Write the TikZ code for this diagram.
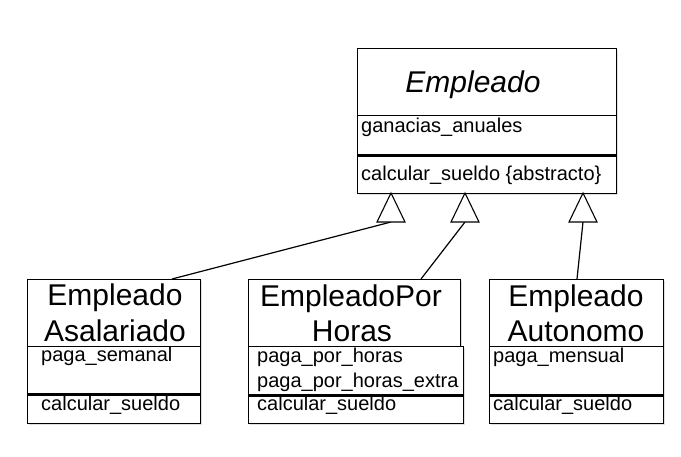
\documentclass[tikz,border=0pt]{standalone}
\usepackage{fontspec}
\setmainfont{Liberation Sans}
\begin{document}
\begin{tikzpicture}[x=1pt,y=-1pt,
  box/.style={draw=black, line width=1.1pt, fill=white, inner sep=0pt, anchor=north west},
  shade/.style={fill=black!12, draw=none},
  sep/.style={line width=1pt},
  thick sep/.style={line width=3pt},
  title/.style={anchor=base, inner sep=0pt, font=\fontsize{30}{36}\selectfont},
  attr/.style={anchor=base west, inner sep=0pt, font=\fontsize{20}{24}\selectfont},
  tri/.style={draw=black, line width=1.1pt, fill=white},
  link/.style={draw=black, line width=1.2pt}
]
\useasboundingbox (0,0) rectangle (681,456);
\fill[white] (0,0) rectangle (681,456);

% shadows
\fill[shade] (359,50) rectangle (618,195);
\fill[shade] (29,281) rectangle (202,425);
\fill[shade] (250,281) rectangle (462,348);
\fill[shade] (250,348) rectangle (465,425);
\fill[shade] (491,281) rectangle (665,425);

% Empleado
\node[box, minimum width=259pt, minimum height=145pt] (emp) at (357,48) {};
\draw[sep] (357,115) -- (616,115);
\draw[thick sep] (357,155) -- (616,155);
\node[title, font=\fontsize{30}{36}\selectfont\itshape] (empt) at (473,92) {Empleado};
\node[attr] (empa) at (361,132) {ganacias\_anuales};
\node[attr] (empm) at (361,180) {calcular\_sueldo \{abstracto\}};

% Asalariado
\node[box, minimum width=173pt, minimum height=144pt] (asa) at (27,279) {};
\draw[sep] (27,346) -- (200,346);
\draw[thick sep] (27,394) -- (200,394);
\node[title] (asat1) at (115,305) {Empleado};
\node[title] (asat2) at (115,341) {Asalariado};
\node[attr] (asaa) at (41,361) {paga\_semanal};
\node[attr] (asam) at (41,410) {calcular\_sueldo};

% Por horas
\node[box, minimum width=215pt, minimum height=77pt] (porb) at (248,346) {};
\node[box, minimum width=212pt, minimum height=67pt] (por) at (248,279) {};
\draw[thick sep] (248,395) -- (463,395);
\node[title] (port1) at (351,306) {EmpleadoPor};
\node[title] (port2) at (352,341) {Horas};
\node[attr] (pora1) at (257,362) {paga\_por\_horas};
\node[attr] (pora2) at (257,387) {paga\_por\_horas\_extra};
\node[attr] (porm) at (257,410) {calcular\_sueldo};

% Autonomo
\node[box, minimum width=174pt, minimum height=144pt] (aut) at (489,279) {};
\draw[sep] (489,346) -- (663,346);
\draw[thick sep] (489,395) -- (663,395);
\node[title] (autt1) at (576,306) {Empleado};
\node[title] (autt2) at (576,341) {Autonomo};
\node[attr] (auta) at (493,362) {paga\_mensual};
\node[attr] (autm) at (493,410) {calcular\_sueldo};

% inheritance connectors
\coordinate (t1) at (391,222);
\coordinate (t2) at (465,222);
\coordinate (t3) at (583,222);
\coordinate (a1) at (172,279);
\coordinate (a2) at (421,279);
\coordinate (a3) at (577,279);
\draw[link] (a1) -- (t1);
\draw[link] (a2) -- (t2);
\draw[link] (a3) -- (t3);
\foreach \t in {t1,t2,t3}{
  \draw[tri] ([xshift=-14pt]\t) -- ([yshift=29pt]\t) -- ([xshift=14pt]\t) -- cycle;
}
\end{tikzpicture}
\end{document}
